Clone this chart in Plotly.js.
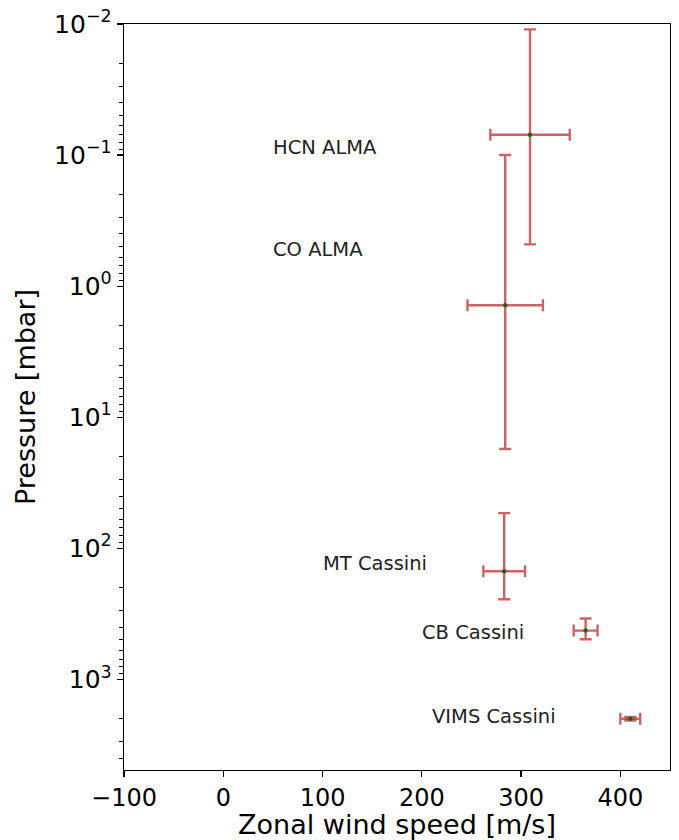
<!DOCTYPE html>
<html>
<head>
<meta charset="utf-8">
<script src="https://cdn.plot.ly/plotly-3.0.1.min.js"></script>
<style>html,body{margin:0;padding:0;background:#fff;}#chart{width:679px;height:840px;}</style>
</head>
<body>
<div id="chart"></div>
<script>
// Data
const instruments = ['HCN ALMA', 'CO ALMA', 'MT Cassini', 'CB Cassini', 'VIMS Cassini'];
const windSpeed = [309, 284, 283, 365, 410];          // m/s
const windErr = [40, 38, 21, 12, 10];                 // m/s
const pressure = [0.07, 1.4, 150, 425, 2000];         // mbar
const pressureErrPlus = [0.41, 16.1, 95, 70, 60];     // toward higher pressure
const pressureErrMinus = [0.059, 1.3, 96, 81, 60];    // toward lower pressure
const labelWind = [50, 50, 100, 200, 210];            // label anchor (m/s)
const labelPressure = [0.1, 0.6, 150, 500, 2200];     // label baseline (mbar)

const xTickVals = [-100, 0, 100, 200, 300, 400];
const xTickText = ['\u2212100', '0', '100', '200', '300', '400'];
const yTickVals = [0.01, 0.1, 1, 10, 100, 1000];
const yTickText = ['10<sup>\u22122</sup>', '10<sup>\u22121</sup>', '10<sup>0</sup>', '10<sup>1</sup>', '10<sup>2</sup>', '10<sup>3</sup>'];

const minorVals = [];
for (let e = -2; e <= 3; e++) {
  for (let m = 2; m <= 9; m++) {
    const v = m * Math.pow(10, e);
    if (v < 4900) minorVals.push(v);
  }
}

const errColor = 'rgba(178,34,34,0.7)';
const font = 'DejaVu Sans, sans-serif';

const trace = {
  type: 'scatter',
  mode: 'markers',
  x: windSpeed,
  y: pressure,
  marker: {color: 'rgba(0,100,0,0.8)', size: 4.5},
  error_x: {type: 'data', array: windErr, visible: true, color: errColor, thickness: 2.4, width: 6},
  error_y: {type: 'data', symmetric: false, array: pressureErrPlus, arrayminus: pressureErrMinus,
            visible: true, color: errColor, thickness: 2.4, width: 6},
  hoverinfo: 'x+y',
  showlegend: false
};

const annotations = instruments.map((name, i) => ({
  x: labelWind[i],
  y: Math.log10(labelPressure[i]),
  xref: 'x', yref: 'y',
  text: name,
  showarrow: false,
  xanchor: 'left',
  yanchor: 'bottom',
  xshift: -2,
  yshift: -6,
  font: {family: font, size: 19.5, color: '#222'}
}));

const layout = {
  width: 679,
  height: 840,
  margin: {l: 124, r: 9, t: 24, b: 70},
  paper_bgcolor: '#ffffff',
  plot_bgcolor: '#ffffff',
  font: {family: font, color: '#000'},
  xaxis: {
    range: [-100, 450],
    tickmode: 'array',
    tickvals: xTickVals,
    ticktext: xTickText,
    ticks: 'outside', ticklen: 6, tickwidth: 1.2, tickcolor: '#000',
    showline: true, linecolor: '#000', linewidth: 1.3, mirror: true,
    showgrid: false, zeroline: false,
    tickfont: {family: font, size: 24, color: '#000'},
    title: {text: 'Zonal wind speed [m/s]', font: {family: font, size: 27, color: '#000'}, standoff: 7},
    automargin: false
  },
  yaxis: {
    type: 'log',
    range: [3.692, -2],
    tickmode: 'array',
    tickvals: yTickVals,
    ticktext: yTickText,
    ticks: 'outside', ticklen: 6, tickwidth: 1.2, tickcolor: '#000',
    minor: {tickmode: 'array', tickvals: minorVals, ticks: 'outside', ticklen: 3.5, tickwidth: 1, tickcolor: '#000', showgrid: false},
    showline: true, linecolor: '#000', linewidth: 1.3, mirror: true,
    showgrid: false, zeroline: false,
    tickfont: {family: font, size: 25, color: '#000'},
    title: {text: 'Pressure [mbar]', font: {family: font, size: 27, color: '#000'}, standoff: 10},
    automargin: false
  },
  annotations: annotations
};

Plotly.newPlot('chart', [trace], layout, {displayModeBar: false, staticPlot: true});
</script>
</body>
</html>
